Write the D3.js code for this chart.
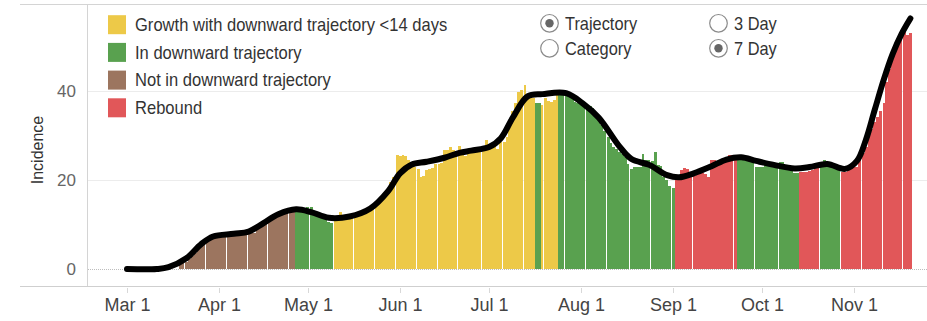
<!DOCTYPE html>
<html>
<head>
<meta charset="utf-8">
<script src="https://cdn.jsdelivr.net/npm/d3@7"></script>
<style>
  html, body { margin: 0; padding: 0; background: #fff; }
  svg { display: block; font-family: "Liberation Sans", Arial, Helvetica, sans-serif; }
</style>
</head>
<body>
<svg id="chart" width="927" height="321"></svg>
<script>
// ---- data -------------------------------------------------------------
// Daily incidence, one value per day starting on firstBarDate
const firstBarDate = "2020-03-19";
const incidence = [
  1.0, 1.3, 1.6, 2.2, 2.9, 3.6, 4.3, 5.1, 5.8, 6.4, 6.8, 7.1, 7.3, 7.4,
  7.5, 7.5, 7.6, 7.7, 7.7, 7.8, 7.9, 7.8, 8.0, 8.3, 8.6, 8.1, 9.5, 10.0,
  10.6, 11.2, 11.7, 12.1, 12.5, 12.8, 13.0, 13.2, 13.3, 13.3, 13.3,
  // Apr 27
  13.3, 13.4, 13.3, 13.6, 14.0, 13.9, 12.6, 12.2, 11.9, 11.6, 11.2, 10.6, 10.3,
  // May 10
  11.8, 11.7, 12.9, 11.7, 11.5, 11.6, 11.7, 11.8, 12.0, 12.3, 12.5, 12.9,
  13.3, 13.9, 14.4, 15.4, 16.3, 17.2, 18.1, 19.6, 20.6,
  // May 31
  25.6, 25.4, 25.6, 25.3, 24.5, 24.0, 23.0, 22.5, 20.7, 20.8, 22.3, 22.5,
  22.6, 23.6, 23.7, 23.8, 26.7, 26.8, 27.4, 26.8, 26.6, 27.6, 26.0, 25.4,
  26.4, 26.4, 26.7, 26.7, 26.7, 26.7, 29.1, 27.9, 27.9, 27.9, 26.9, 28.6,
  28.6, 29.7, 33.5, 35.5, 37.2, 39.8, 40.2, 41.3, 39.0, 38.7, 38.5,
  // Jul 17
  37.2, 37.2,
  // Jul 19
  36.9, 38.4, 37.8, 37.5, 38.0, 40.0,
  // Jul 25
  39.1, 39.2, 39.8, 38.7, 38.6, 37.6, 37.4, 37.3, 37.2, 36.9, 36.6, 36.2,
  35.0, 33.8, 32.4, 31.0, 29.6, 28.4, 27.5, 26.9, 26.4, 25.8, 25.2, 23.5,
  22.5, 23.0, 22.9, 23.0, 25.8, 24.5, 24.4, 24.2, 26.4, 23.4, 23.2, 20.7,
  20.0, 18.6, 18.3,
  // Sep 2
  20.0, 20.4, 22.2, 22.6, 22.4, 20.7, 20.8, 22.2, 22.2, 21.5, 21.3, 20.7,
  24.5, 24.4, 23.7, 23.8, 24.5, 24.5, 25.6, 25.6, 25.5,
  // Sep 23
  25.2, 25.0, 24.8, 24.6, 24.5, 24.3, 23.0, 23.0, 23.0, 23.4, 23.4, 23.4,
  23.3, 23.5, 24.1, 24.0, 22.6, 22.6, 22.5, 21.5, 21.5,
  // Oct 14
  21.9, 21.9, 21.9, 22.0, 22.3, 23.8, 23.8,
  // Oct 21
  23.4, 24.5, 24.0, 23.0, 23.0, 23.0, 23.0,
  // Oct 28
  21.9, 21.9, 22.2, 23.0, 23.0, 23.0, 24.5, 26.0, 27.5, 30.5, 31.5, 33.0,
  34.2, 35.5, 37.3, 42.0, 45.0, 47.5, 49.5, 51.0, 53.7, 53.7, 52.6, 53.0
];

// Trajectory category spans: each span runs from its start date to the next one
const spanStarts = ["2020-03-19", "2020-04-27", "2020-05-10", "2020-07-17", "2020-07-19",
                    "2020-07-25", "2020-09-02", "2020-09-23", "2020-10-14", "2020-10-21", "2020-10-28"];
const spanCategories = ["not", "down", "growth", "down", "growth",
                        "down", "rebound", "down", "rebound", "down", "rebound"];

// Legend entries
const categoryKeys = ["growth", "down", "not", "rebound"];
const categoryLabels = ["Growth with downward trajectory <14 days", "In downward trajectory",
                        "Not in downward trajectory", "Rebound"];
const categoryColors = ["#EDC948", "#59A14F", "#9C755F", "#E15759"];

// Smoothed 7-day trajectory
const trendDates = ["2020-03-01", "2020-03-11", "2020-03-15", "2020-03-21", "2020-03-26", "2020-03-30",
  "2020-04-06", "2020-04-11", "2020-04-16", "2020-04-21", "2020-04-27", "2020-05-02", "2020-05-08",
  "2020-05-15", "2020-05-22", "2020-05-28", "2020-06-01", "2020-06-05", "2020-06-10", "2020-06-16",
  "2020-06-21", "2020-06-25", "2020-07-01", "2020-07-05", "2020-07-09", "2020-07-14", "2020-07-19",
  "2020-07-27", "2020-08-02", "2020-08-07", "2020-08-14", "2020-08-18", "2020-08-24", "2020-08-30",
  "2020-09-03", "2020-09-08", "2020-09-14", "2020-09-19", "2020-09-24", "2020-09-29", "2020-10-05",
  "2020-10-12", "2020-10-17", "2020-10-23", "2020-10-29", "2020-11-02", "2020-11-05", "2020-11-08",
  "2020-11-11", "2020-11-14", "2020-11-17", "2020-11-20"];
const trendValues = [0, 0, 0.4, 2.4, 5.6, 7.3,
  7.9, 8.4, 10.3, 12.3, 13.4, 12.8, 11.5,
  11.8, 13.6, 17.5, 21.5, 23.5, 24.1, 25.0,
  26.1, 26.6, 27.4, 29.4, 34.0, 38.8, 39.3,
  39.5, 37.0, 34.0, 27.5, 24.7, 23.4, 21.1,
  20.6, 21.5, 23.1, 24.6, 25.1, 24.3, 23.4,
  22.6, 22.9, 23.6, 22.5, 24.3, 29.0, 35.8,
  42.5, 48.3, 52.8, 56.3];

// Axis ticks
const yTicks = [0, 20, 40];
const monthTicks = ["2020-03-01", "2020-04-01", "2020-05-01", "2020-06-01", "2020-07-01",
                    "2020-08-01", "2020-09-01", "2020-10-01", "2020-11-01"];

// Option toggles shown above the plot
const viewOptions = ["Trajectory", "Category"];
const windowOptions = ["3 Day", "7 Day"];
const selectedView = "Trajectory";
const selectedWindow = "7 Day";

// ---- layout ------------------------------------------------------------
const parse = d3.utcParse("%Y-%m-%d");
const svg = d3.select("#chart");
const W = 927;
const frameLeft = 20, plotLeft = 87, frameTop = 4, axisY = 286;

const x = d3.scaleUtc()
  .domain([parse("2020-03-01"), parse("2020-11-01")])
  .range([127, 854]);
const y = d3.scaleLinear().domain([0, 40]).range([269, 91]);

const colorOf = d3.scaleOrdinal().domain(categoryKeys).range(categoryColors);

// daily records
const start = parse(firstBarDate);
const spanStartTimes = spanStarts.map(s => parse(s).getTime());
const days = incidence.map((v, i) => {
  const date = d3.utcDay.offset(start, i);
  const k = d3.bisectRight(spanStartTimes, date.getTime()) - 1;
  return { date, value: v, cat: spanCategories[k] };
});

// ---- frame & grid -----------------------------------------------------
const frame = svg.append("g").attr("shape-rendering", "crispEdges");
frame.append("line").attr("x1", frameLeft).attr("x2", W).attr("y1", frameTop + 0.5).attr("y2", frameTop + 0.5)
  .attr("stroke", "#d4d4d4");
frame.append("line").attr("x1", frameLeft).attr("x2", W).attr("y1", axisY + 0.5).attr("y2", axisY + 0.5)
  .attr("stroke", "#cfcfcf");
frame.append("line").attr("x1", plotLeft + 0.5).attr("x2", plotLeft + 0.5).attr("y1", frameTop).attr("y2", axisY)
  .attr("stroke", "#d4d4d4");

frame.selectAll("line.grid").data(yTicks.filter(t => t !== 0)).join("line")
  .attr("class", "grid")
  .attr("x1", plotLeft + 1).attr("x2", W)
  .attr("y1", d => Math.round(y(d)) + 0.5).attr("y2", d => Math.round(y(d)) + 0.5)
  .attr("stroke", "#ececec");

// ---- bars ---------------------------------------------------------------
// Bar edges sit on a grid slightly finer than a pixel, which leaves a thin
// white seam every week or so.
const step = x(d3.utcDay.offset(start, 1)) - x(start);
const grid = 0.945;
const barUnits = Math.floor(step / grid);
svg.append("g").attr("shape-rendering", "crispEdges")
  .selectAll("rect").data(days).join("rect")
  .attr("x", d => Math.round(Math.round((x(d.date) - step / 2) / grid) * grid))
  .attr("width", d => {
    const u = Math.round((x(d.date) - step / 2) / grid);
    return Math.round((u + barUnits) * grid) - Math.round(u * grid);
  })
  .attr("y", d => y(d.value))
  .attr("height", d => y(0) - y(d.value))
  .attr("fill", d => colorOf(d.cat));

// zero baseline (dotted)
svg.append("line")
  .attr("x1", plotLeft + 1).attr("x2", W)
  .attr("y1", Math.round(y(0)) + 0.5).attr("y2", Math.round(y(0)) + 0.5)
  .attr("stroke", "#bdbdbd").attr("stroke-dasharray", "1,1");

// ---- trajectory line ------------------------------------------------------
const trend = trendDates.map((d, i) => ({ date: parse(d), value: trendValues[i] }));
svg.append("path")
  .datum(trend)
  .attr("fill", "none")
  .attr("stroke", "#000")
  .attr("stroke-width", 6)
  .attr("stroke-linecap", "round")
  .attr("stroke-linejoin", "round")
  .attr("d", d3.line().x(d => x(d.date)).y(d => y(d.value)).curve(d3.curveCatmullRom.alpha(0.5)));

// ---- axes -----------------------------------------------------------------
const xAxis = svg.append("g")
  .attr("transform", `translate(0,${axisY})`)
  .call(d3.axisBottom(x)
    .tickValues(monthTicks.map(parse))
    .tickFormat(d3.utcFormat("%b %-d"))
    .tickSize(7)
    .tickPadding(5));
xAxis.select(".domain").remove();
xAxis.selectAll(".tick line").attr("stroke", "#d8d8d8").attr("y1", 2);
xAxis.selectAll(".tick text").attr("fill", "#444").style("font-size", "18px");

const yAxis = svg.append("g")
  .attr("transform", `translate(${plotLeft},0)`)
  .call(d3.axisLeft(y).tickValues(yTicks).tickSize(0).tickPadding(11));
yAxis.select(".domain").remove();
yAxis.selectAll(".tick text").attr("fill", "#666").style("font-size", "17px");

svg.append("text")
  .attr("transform", "translate(43,150) rotate(-90)")
  .attr("text-anchor", "middle")
  .attr("fill", "#333")
  .style("font-size", "16px")
  .text("Incidence");

// ---- legend -----------------------------------------------------------------
const legend = svg.append("g");
const legendRows = legend.selectAll("g").data(categoryKeys).join("g")
  .attr("transform", (d, i) => `translate(108,${24.7 + i * 27.7})`);
legendRows.append("rect")
  .attr("x", 0).attr("y", -9.5).attr("width", 18).attr("height", 19)
  .attr("fill", d => colorOf(d));
legendRows.append("text")
  .attr("transform", "translate(27,6.3) scale(0.92,1)")
  .attr("fill", "#333")
  .style("font-size", "18px")
  .text((d, i) => categoryLabels[i]);

// ---- option toggles -----------------------------------------------------------
function radioColumn(options, selected, cx) {
  const g = svg.append("g").selectAll("g").data(options).join("g")
    .attr("transform", (d, i) => `translate(${cx},${23.3 + i * 25})`);
  g.append("circle").attr("r", 8.8).attr("fill", "#fff").attr("stroke", "#8a8a8a").attr("stroke-width", 1.2);
  g.filter(d => d === selected).append("circle").attr("r", 4.2).attr("fill", "#666");
  g.append("text")
    .attr("transform", "translate(15.5,6.3) scale(0.91,1)")
    .attr("fill", "#333")
    .style("font-size", "18px")
    .text(d => d);
}
radioColumn(viewOptions, selectedView, 549.5);
radioColumn(windowOptions, selectedWindow, 718.5);
</script>
</body>
</html>
